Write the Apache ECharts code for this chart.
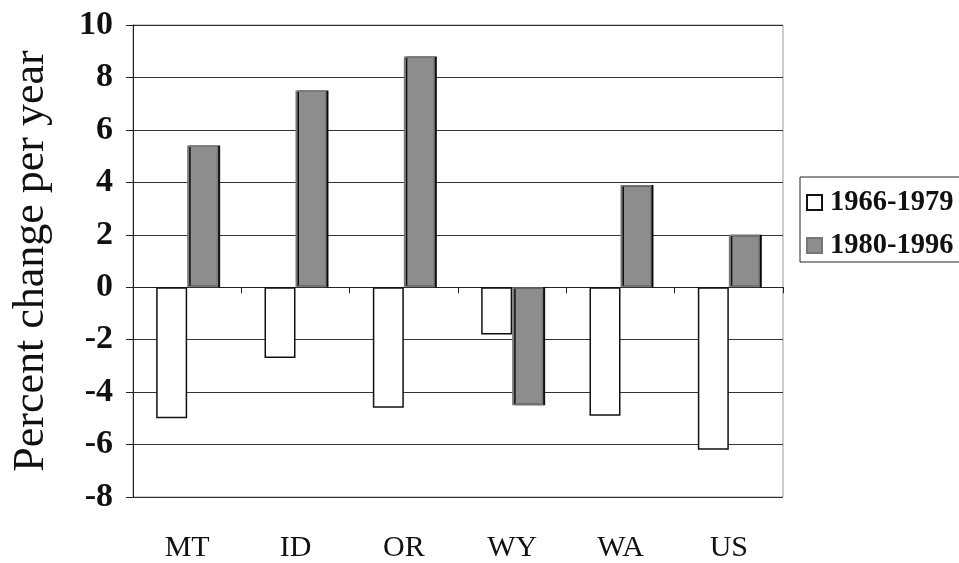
<!DOCTYPE html>
<html><head><meta charset="utf-8">
<script src="https://cdn.jsdelivr.net/npm/echarts@6/dist/echarts.min.js"></script>
<style>html,body{margin:0;padding:0;background:#fff}#c{width:959px;height:563px}</style>
</head><body><div id="c"></div>
<script>
const categories = ['MT', 'ID', 'OR', 'WY', 'WA', 'US'];
const series1966 = [-5.0, -2.7, -4.6, -1.8, -4.9, -6.2];
const series1980 = [5.4, 7.5, 8.8, -4.5, 3.9, 2.0];
const yTicks = [-8, -6, -4, -2, 0, 2, 4, 6, 8, 10];
const seriesNames = ['1966-1979', '1980-1996'];

const serif = '"Liberation Serif", "DejaVu Serif", serif';
const chart = echarts.init(document.getElementById('c'), null, {renderer: 'canvas'});
chart.setOption({
  animation: false,
  backgroundColor: '#fff',
  grid: {left: 133, right: 176, top: 25, bottom: 66, show: true, borderColor: '#999', borderWidth: 1},
  legend: {
    orient: 'vertical', left: 800, top: 177,
    icon: 'rect',
    itemWidth: 15, itemHeight: 15, itemGap: 14,
    padding: [11, 60, 2, 6],
    borderColor: '#222', borderWidth: 1,
    textStyle: {fontFamily: serif, fontWeight: 'bold', fontSize: 28.5, color: '#111', padding: [0, 0, 0, 3]},
    data: seriesNames
  },
  xAxis: [
    {type: 'category', data: categories, position: 'bottom',
     axisLine: {show: false, onZero: false}, axisTick: {show: false},
     axisLabel: {fontFamily: serif, fontSize: 30, color: '#111', margin: 36}},
    {type: 'category', data: categories, position: 'bottom',
     axisLine: {show: true, onZero: true, lineStyle: {color: '#222'}},
     axisTick: {show: true, inside: false, length: 6, lineStyle: {color: '#222'}},
     axisLabel: {show: false}}
  ],
  yAxis: {
    type: 'value', min: yTicks[0], max: yTicks[yTicks.length - 1], interval: 2,
    name: 'Percent change per year', nameLocation: 'middle', nameGap: 80,
    nameTextStyle: {fontFamily: serif, fontSize: 44, color: '#111'},
    axisLine: {show: true, lineStyle: {color: '#222'}},
    axisTick: {show: true, length: 7, lineStyle: {color: '#222'}},
    axisLabel: {fontFamily: serif, fontWeight: 'bold', fontSize: 34, color: '#111', margin: 20},
    splitLine: {lineStyle: {color: '#333', width: 1}}
  },
  series: [
    {name: seriesNames[0], type: 'bar', data: series1966, xAxisIndex: 1,
     barWidth: 31, barGap: '0%',
     itemStyle: {color: '#ffffff', borderColor: '#111', borderWidth: 1.5}},
    {name: seriesNames[1], type: 'bar', data: series1980, xAxisIndex: 1,
     barWidth: 31, barGap: '0%',
     itemStyle: {color: '#8d8d8d', borderColor: '#777', borderWidth: 1.5,
                 shadowColor: 'rgba(0,0,0,0.9)', shadowOffsetX: 2, shadowOffsetY: 0, shadowBlur: 0}}
  ]
});
</script></body></html>
